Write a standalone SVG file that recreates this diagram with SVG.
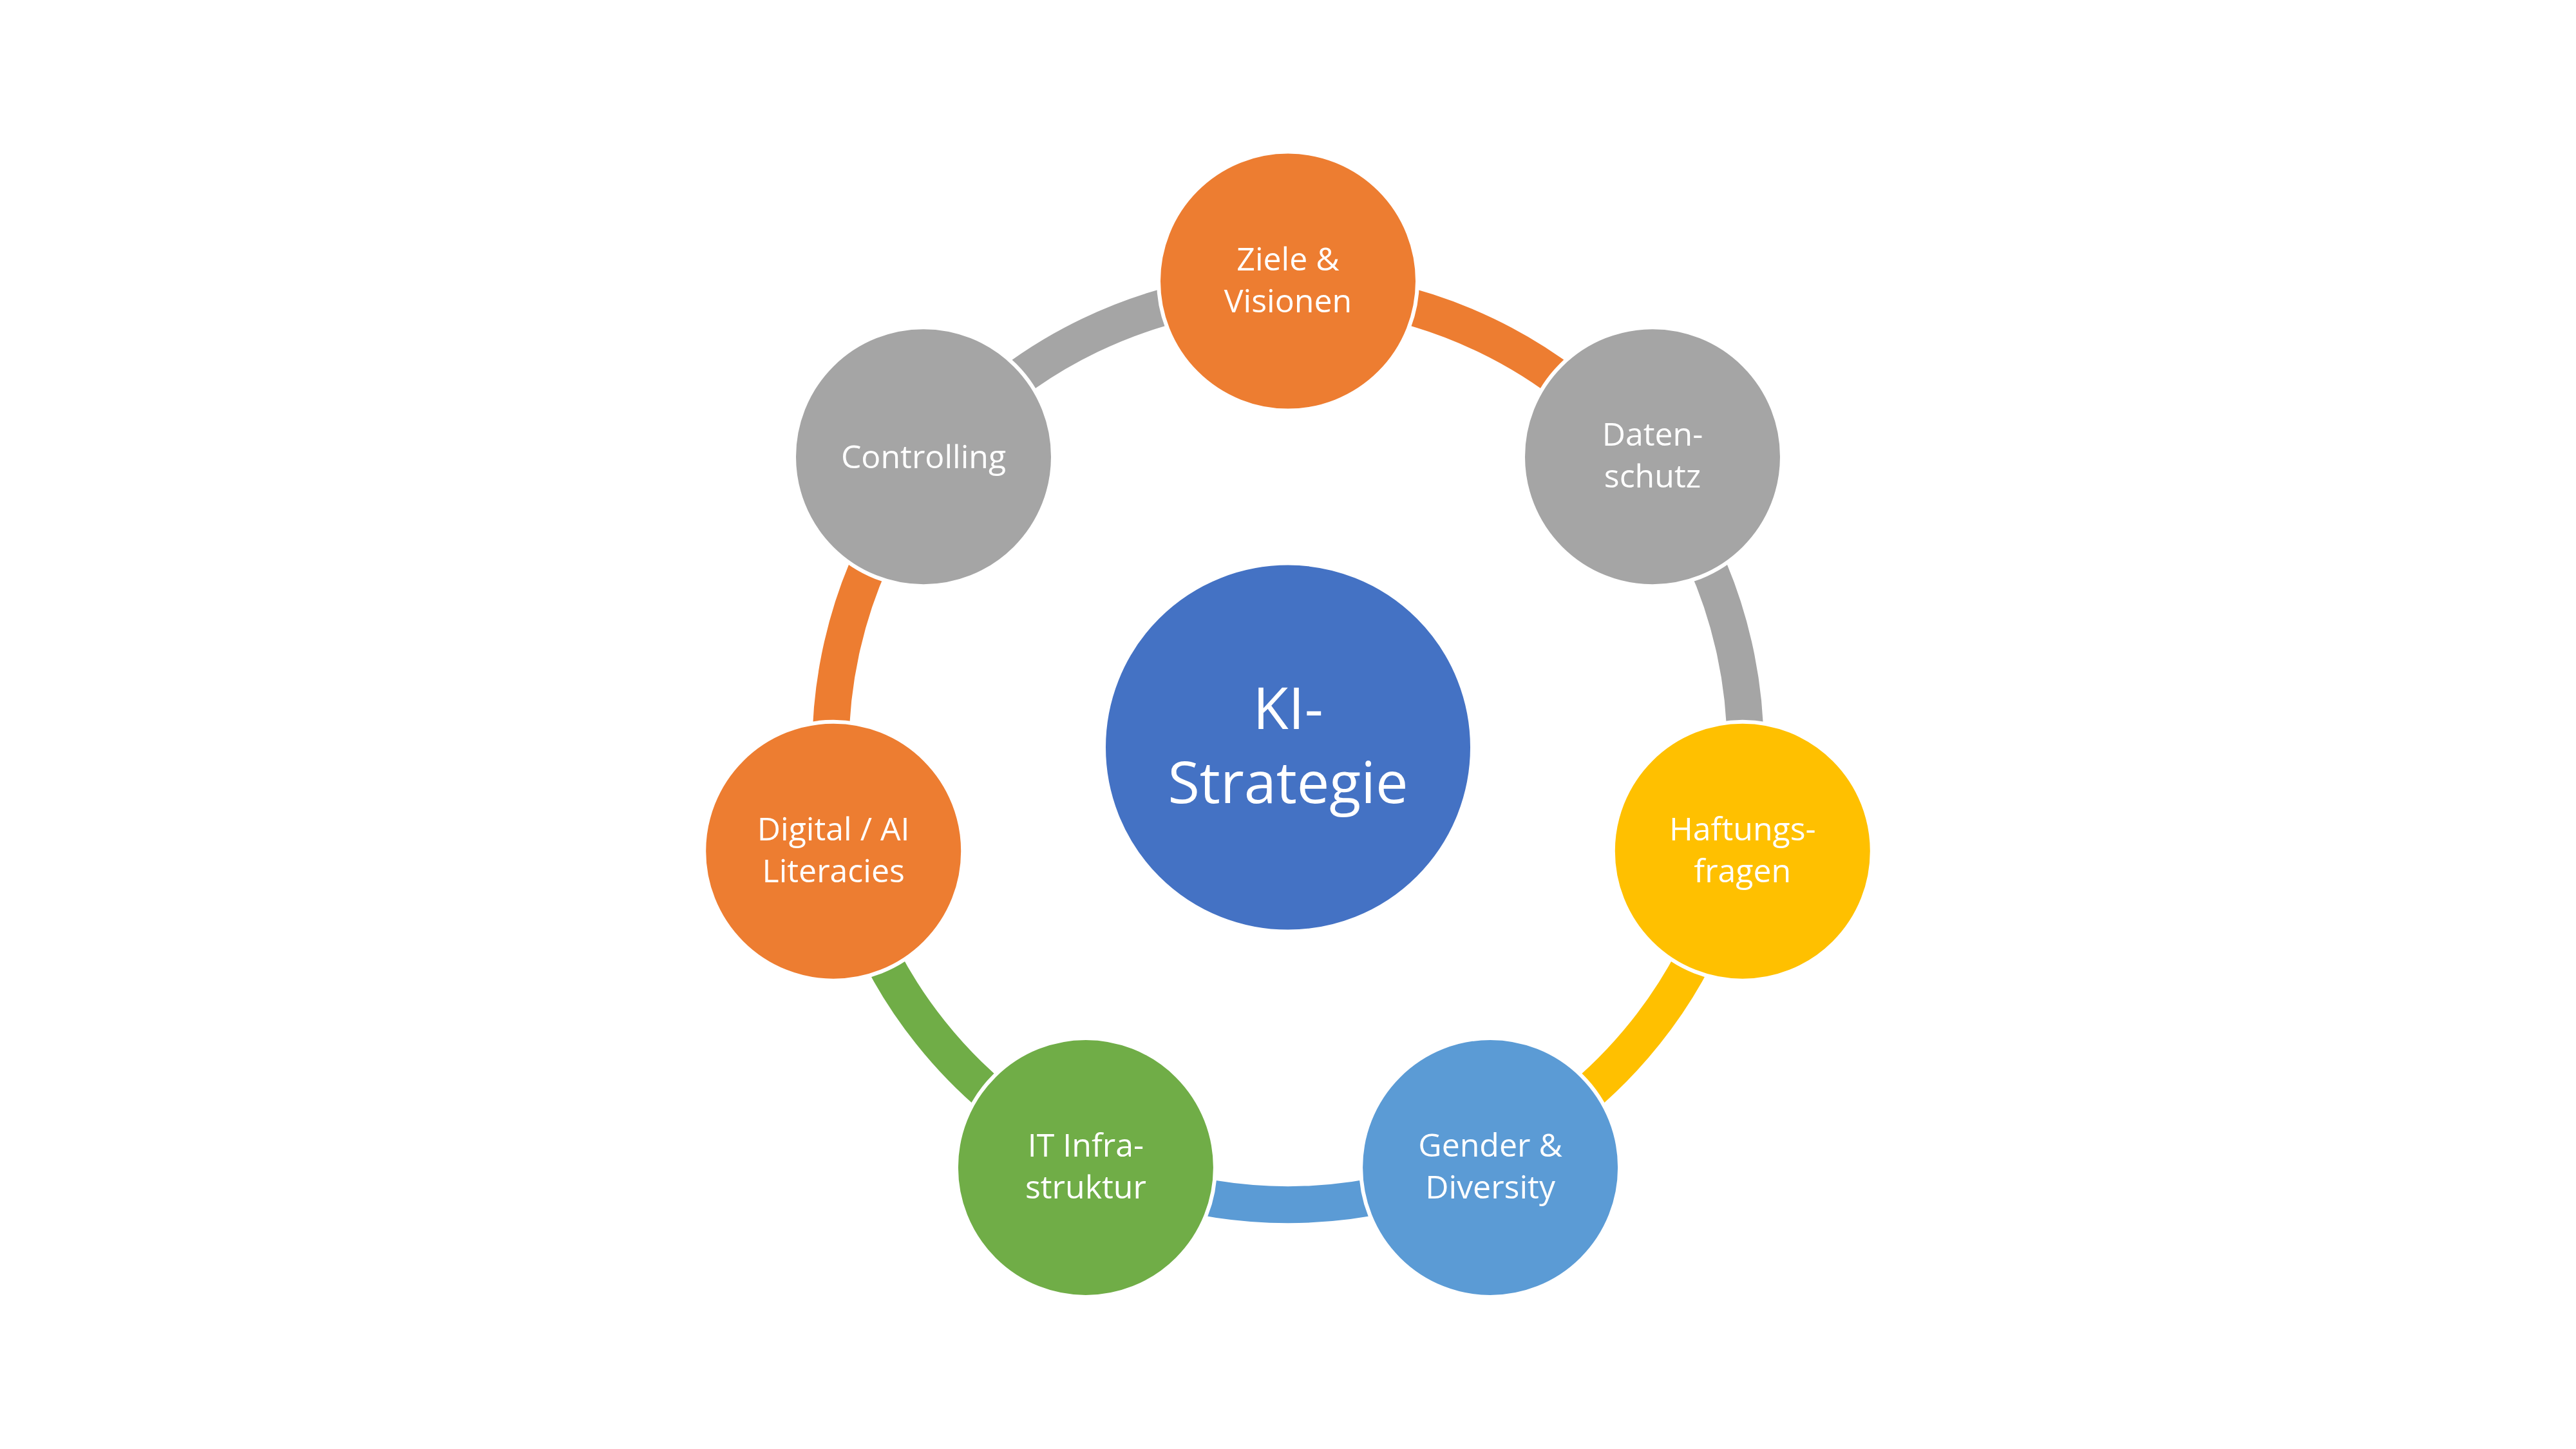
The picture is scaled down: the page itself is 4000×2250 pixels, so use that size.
<svg xmlns="http://www.w3.org/2000/svg" width="4000" height="2250" viewBox="0 0 4000 2250">
<style>
.arc{fill:none;stroke-width:57;stroke-linecap:butt}
.node{stroke:#FFFFFF;stroke-width:6}
.t{font-family:"Open Sans","Lato","Liberation Sans",sans-serif;font-size:50px;fill:#FFFFFF;text-anchor:middle}
.tc{font-family:"Open Sans","Lato","Liberation Sans",sans-serif;font-size:90px;fill:#FFFFFF;text-anchor:middle}
</style>
<rect x="0" y="0" width="4000" height="2250" fill="#FFFFFF"/>
<g id="connectors">
<path class="arc" stroke="#ED7D31" d="M2000,450.6 A710,710 0 0 1 2555.1,717.9"/>
<path class="arc" stroke="#A5A5A5" d="M2555.1,717.9 A710,710 0 0 1 2692.2,1318.6"/>
<path class="arc" stroke="#FFC000" d="M2692.2,1318.6 A710,710 0 0 1 2308.1,1800.3"/>
<path class="arc" stroke="#5B9BD5" d="M2308.1,1800.3 A710,710 0 0 1 1691.9,1800.3"/>
<path class="arc" stroke="#70AD47" d="M1691.9,1800.3 A710,710 0 0 1 1307.8,1318.6"/>
<path class="arc" stroke="#ED7D31" d="M1307.8,1318.6 A710,710 0 0 1 1444.9,717.9"/>
<path class="arc" stroke="#A5A5A5" d="M1444.9,717.9 A710,710 0 0 1 2000,450.6"/>
</g>
<g id="center">
<circle cx="2000" cy="1160.6" r="286" fill="#4472C4" stroke="#FFFFFF" stroke-width="6"/>
<text class="tc" x="2000" y="1132">KI-</text>
<text class="tc" x="2000" y="1247">Strategie</text>
</g>
<g id="ziele">
<circle class="node" cx="2000" cy="436.6" r="201" fill="#ED7D31"/>
<text class="t" x="2000" y="420">Ziele &amp;</text>
<text class="t" x="2000" y="485">Visionen</text>
</g>
<g id="datenschutz">
<circle class="node" cx="2566" cy="709.2" r="201" fill="#A5A5A5"/>
<text class="t" x="2566" y="692">Daten-</text>
<text class="t" x="2566" y="757">schutz</text>
</g>
<g id="haftungsfragen">
<circle class="node" cx="2705.8" cy="1321.7" r="201" fill="#FFC000"/>
<text class="t" x="2705.8" y="1305">Haftungs-</text>
<text class="t" x="2705.8" y="1370">fragen</text>
</g>
<g id="gender">
<circle class="node" cx="2314.1" cy="1812.9" r="201" fill="#5B9BD5"/>
<text class="t" x="2314.1" y="1796">Gender &amp;</text>
<text class="t" x="2314.1" y="1861">Diversity</text>
</g>
<g id="it">
<circle class="node" cx="1685.9" cy="1812.9" r="201" fill="#70AD47"/>
<text class="t" x="1685.9" y="1796">IT Infra-</text>
<text class="t" x="1685.9" y="1861">struktur</text>
</g>
<g id="digital">
<circle class="node" cx="1294.2" cy="1321.7" r="201" fill="#ED7D31"/>
<text class="t" x="1294.2" y="1305">Digital / AI</text>
<text class="t" x="1294.2" y="1370">Literacies</text>
</g>
<g id="controlling">
<circle class="node" cx="1434" cy="709.2" r="201" fill="#A5A5A5"/>
<text class="t" x="1434" y="727">Controlling</text>
</g>
</svg>
